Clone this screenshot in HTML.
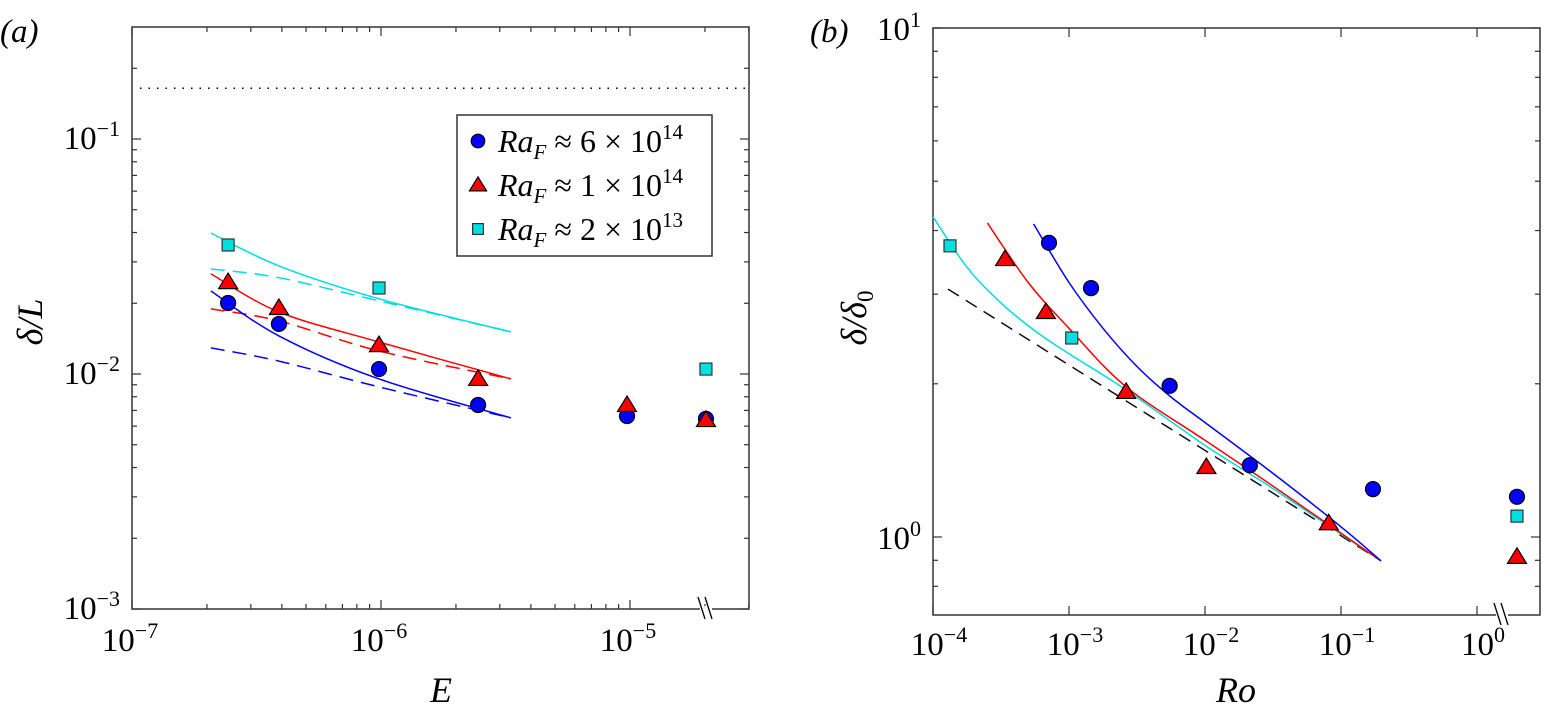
<!DOCTYPE html>
<html><head><meta charset="utf-8"><style>
html,body{margin:0;padding:0;background:#fff;}
svg{display:block;font-family:"Liberation Serif",serif;}
</style></head><body>
<svg id="fig" width="1544" height="719" viewBox="0 0 1544 719" xmlns="http://www.w3.org/2000/svg">
<g id="pa"></g>
<g id="pb"></g>
</svg>
<script>
// ---------- Panel (a) data: log10 values ----------
const aBlueX = [-6.614, -6.41, -6.008, -5.61, -5.012, -4.695];
const aBlueY = [-1.698, -1.787, -1.979, -2.132, -2.179, -2.191];
const aRedX = [-6.614, -6.41, -6.008, -5.61, -5.012, -4.695];
const aRedY = [-1.609, -1.719, -1.877, -2.021, -2.132, -2.196];
const aCyanX = [-6.614, -6.008, -4.695];
const aCyanY = [-1.451, -1.634, -1.979];
const aCurveX = [-6.683, -6.41, -6.008, -5.478];
const aCyanSolid = [-1.40, -1.54, -1.68, -1.821];
const aCyanDash = [-1.553, -1.59, -1.689, -1.821];
const aRedSolid = [-1.574, -1.736, -1.864, -2.021];
const aRedDash = [-1.723, -1.774, -1.902, -2.021];
const aBlueSolid = [-1.647, -1.838, -2.021, -2.187];
const aBlueDash = [-1.889, -1.945, -2.055, -2.187];
const aDotted = -0.784;
const aXTickExp = [-7, -6, -5];
const aYTickExp = [-3, -2, -1];
const legendLabels = [["6","14"],["1","14"],["2","13"]];

// ---------- Panel (b) data: log10 values ----------
const bBlueX = [-3.147, -2.838, -2.26, -1.67, -0.765, 0.294];
const bBlueY = [0.578, 0.489, 0.297, 0.141, 0.094, 0.079];
const bRedX = [-3.47, -3.17, -2.58, -1.99, -1.09, 0.294];
const bRedY = [0.546, 0.442, 0.285, 0.1375, 0.027, -0.039];
const bCyanX = [-3.875, -2.98, 0.294];
const bCyanY = [0.572, 0.391, 0.041];
const bDashX = [-3.89, -0.706];
const bDashY = [0.487, -0.047];
const bCyanCurveX = [-4.0, -3.75, -3.5, -3.25, -3.0, -2.58, -2.0, -1.5, -0.706];
const bCyanCurveY = [0.629, 0.53, 0.46, 0.405, 0.36, 0.289, 0.18, 0.095, -0.047];
const bRedCurveX = [-3.6, -3.3, -3.0, -2.58, -2.0, -1.5, -0.706];
const bRedCurveY = [0.617, 0.5, 0.41, 0.295, 0.19, 0.1, -0.047];
const bBlueCurveX = [-3.26, -3.0, -2.75, -2.5, -2.25, -2.0, -1.5, -1.0, -0.706];
const bBlueCurveY = [0.615, 0.50, 0.41, 0.335, 0.275, 0.225, 0.125, 0.02, -0.047];
const bXTickExp = [-4, -3, -2, -1, 0];
const bYTickExp = [0, 1];

const NS = "http://www.w3.org/2000/svg";
function mk(parent, tag, attrs) {
  const e = document.createElementNS(NS, tag);
  for (const k in attrs) e.setAttribute(k, attrs[k]);
  parent.appendChild(e);
  return e;
}
function smoothPath(pts) {
  let d = "M" + pts[0][0].toFixed(1) + "," + pts[0][1].toFixed(1);
  for (let i = 0; i < pts.length - 1; i++) {
    const p0 = pts[i - 1] || pts[i], p1 = pts[i], p2 = pts[i + 1], p3 = pts[i + 2] || p2;
    const c1 = [p1[0] + (p2[0] - p0[0]) / 6, p1[1] + (p2[1] - p0[1]) / 6];
    const c2 = [p2[0] - (p3[0] - p1[0]) / 6, p2[1] - (p3[1] - p1[1]) / 6];
    d += "C" + c1.map(v => v.toFixed(1)).join(",") + " " + c2.map(v => v.toFixed(1)).join(",") + " " + p2[0].toFixed(1) + "," + p2[1].toFixed(1);
  }
  return d;
}
function powLabel(g, x, y, exp, anchor, name) {
  const t = mk(g, "text", {x: x, y: y, "font-size": 33, "text-anchor": anchor, fill: "#000"});
  
  
  const a = document.createElementNS(NS, "tspan"); a.textContent = "10"; t.appendChild(a);
  const b = document.createElementNS(NS, "tspan"); b.setAttribute("dy", "-13"); b.setAttribute("font-size", "22");
  b.textContent = (exp < 0 ? "\u2212" + (-exp) : "" + exp); t.appendChild(b);
}
function marker(g, type, cx, cy, name, s) {
  s = s || 1;
  let e;
  if (type === "c") e = mk(g, "circle", {cx: cx, cy: cy, r: 7.5 * s, fill: "#0000ff", stroke: "#000", "stroke-width": 1.2});
  else if (type === "t") e = mk(g, "polygon", {points: `${cx},${cy - 9 * s} ${cx - 9.5 * s},${cy + 6.5 * s} ${cx + 9.5 * s},${cy + 6.5 * s}`, fill: "#ff0000", stroke: "#000", "stroke-width": 1.2});
  else e = mk(g, "rect", {x: cx - 6 * s, y: cy - 6 * s, width: 12 * s, height: 12 * s, fill: "#00e0e0", stroke: "#333", "stroke-width": 1.2});
  
  
}
function axesBox(g, L, T, R, B, name) {
  const r = mk(g, "rect", {x: L, y: T, width: R - L, height: B - T, fill: "none", stroke: "#333", "stroke-width": 1.5});
  
  
}
function logTicks(g, axis, sx, lo, hi, fixed1, fixed2, majorOnly) {
  for (let d = Math.floor(lo); d <= Math.ceil(hi); d++) {
    for (let m = 1; m <= 9; m++) {
      if (majorOnly && m !== 1) continue;
      const v = d + Math.log10(m);
      if (v < lo - 1e-6 || v > hi + 1e-6) continue;
      const len = m === 1 ? 9 : 5;
      const p = sx(v);
      if (axis === "x") {
        mk(g, "line", {x1: p, y1: fixed1, x2: p, y2: fixed1 - len, stroke: "#333", "stroke-width": 1.2});
        mk(g, "line", {x1: p, y1: fixed2, x2: p, y2: fixed2 + len, stroke: "#333", "stroke-width": 1.2});
      } else {
        mk(g, "line", {x1: fixed1, y1: p, x2: fixed1 + len, y2: p, stroke: "#333", "stroke-width": 1.2});
        mk(g, "line", {x1: fixed2, y1: p, x2: fixed2 - len, y2: p, stroke: "#333", "stroke-width": 1.2});
      }
    }
  }
}
function breakMark(g, x, y, name) {
  const gg = mk(g, "g", {});
  
  
  mk(gg, "rect", {x: x - 6, y: y - 3, width: 12, height: 6, fill: "#fff"});
  mk(gg, "line", {x1: x - 8, y1: y - 12, x2: x - 1, y2: y + 10, stroke: "#000", "stroke-width": 1.3});
  mk(gg, "line", {x1: x - 1, y1: y - 12, x2: x + 6, y2: y + 10, stroke: "#000", "stroke-width": 1.3});
}
function series(g, xs, ys, sx, sy, color, dash, name) {
  const pts = xs.map((x, i) => [sx(x), sy(ys[i])]);
  const p = mk(g, "path", {d: smoothPath(pts), fill: "none", stroke: color, "stroke-width": 1.5});
  if (dash) p.setAttribute("stroke-dasharray", dash);
  
  
}

// ===== Panel (a) =====
(function () {
  const g = document.getElementById("pa");
  const L = 132, R = 749, T = 27, B = 609;
  const xlo = -7, dxp = 249, ylo = -3, dyp = 235;
  const sx = v => L + (v - xlo) * dxp;
  const sy = v => B - (v - ylo) * dyp;
  const xhi = xlo + (R - L) / dxp, yhi = ylo + (B - T) / dyp;
  axesBox(g, L, T, R, B, "panel-a-axes-box");
  logTicks(g, "x", sx, xlo, xhi, B, T);
  logTicks(g, "y", sy, ylo, yhi, L, R);
  const dl = mk(g, "line", {x1: L + 8, y1: sy(aDotted), x2: R - 4, y2: sy(aDotted), stroke: "#000", "stroke-width": 1.5, "stroke-dasharray": "1.5,7"});
  
  
  aXTickExp.forEach(e => powLabel(g, sx(e) - 2, B + 42, e, "middle", "x-tick-label"));
  aYTickExp.forEach(e => powLabel(g, L - 12, sy(e) + 10, e, "end", "y-tick-label"));
  breakMark(g, 706, B, "axis-break-a");
  series(g, aCurveX, aCyanDash, sx, sy, "#00dddd", "14,8", "cyan-dashed-fit");
  series(g, aCurveX, aRedDash, sx, sy, "#ff0000", "14,8", "red-dashed-fit");
  series(g, aCurveX, aBlueDash, sx, sy, "#0000ff", "14,8", "blue-dashed-fit");
  series(g, aCurveX, aCyanSolid, sx, sy, "#00dddd", null, "cyan-solid-fit");
  series(g, aCurveX, aRedSolid, sx, sy, "#ff0000", null, "red-solid-fit");
  series(g, aCurveX, aBlueSolid, sx, sy, "#0000ff", null, "blue-solid-fit");
  aCyanX.forEach((x, i) => marker(g, "s", sx(x), sy(aCyanY[i]), "cyan-square-point"));
  aBlueX.forEach((x, i) => marker(g, "c", sx(x), sy(aBlueY[i]), "blue-circle-point"));
  aRedX.forEach((x, i) => marker(g, "t", sx(x), sy(aRedY[i]), "red-triangle-point"));
  // legend
  const lg = mk(g, "g", {});
  
  
  mk(lg, "rect", {x: 457, y: 115, width: 255, height: 141, fill: "#fff", stroke: "#333", "stroke-width": 1.5});
  const types = ["c", "t", "s"];
  legendLabels.forEach((lab, i) => {
    const y = 141 + i * 44;
    marker(lg, types[i], 478, y, "legend-marker", 0.9);
    const t = mk(lg, "text", {x: 498, y: y + 11, "font-size": 32, fill: "#000"});
    
    
    const parts = [["Ra", {"font-style": "italic"}], ["F", {"font-style": "italic", "font-size": "21", dy: "7"}], [" \u2248 " + lab[0] + " \u00d7 10", {dy: "-7"}], [lab[1], {"font-size": "21", dy: "-13"}]];
    parts.forEach(p => { const s = document.createElementNS(NS, "tspan"); for (const k in p[1]) s.setAttribute(k, p[1][k]); s.textContent = p[0]; t.appendChild(s); });
  });
  const ta = mk(g, "text", {x: 0, y: 42, "font-size": 33, fill: "#000"});
  ta.textContent = "(a)"; ta.setAttribute("font-style", "italic");
  
  
  const xl = mk(g, "text", {x: 441, y: 702, "font-size": 36, "font-style": "italic", "text-anchor": "middle", fill: "#000"});
  xl.textContent = "E";
  
  
  const yl = mk(g, "text", {x: 0, y: 0, "font-size": 36, "font-style": "italic", "text-anchor": "middle", fill: "#000", transform: "translate(42,322) rotate(-90)"});
  yl.textContent = "\u03b4/L";
  
  
})();

// ===== Panel (b) =====
(function () {
  const g = document.getElementById("pb");
  const L = 933, R = 1540, T = 28, B = 615;
  const xlo = -4, dxp = 136, yhi = 1, dyp = 509;
  const sx = v => L + (v - xlo) * dxp;
  const sy = v => T + (yhi - v) * dyp;
  const xhi = xlo + (R - L) / dxp, ylo = yhi - (B - T) / dyp;
  axesBox(g, L, T, R, B, "panel-b-axes-box");
  logTicks(g, "x", sx, xlo, xhi, B, T, true);
  logTicks(g, "y", sy, ylo, yhi, L, R);
  bXTickExp.forEach(e => powLabel(g, sx(e) + 6, B + 40, e, "middle", "x-tick-label"));
  bYTickExp.forEach(e => powLabel(g, L - 12, sy(e) + 12, e, "end", "y-tick-label"));
  breakMark(g, 1502, B, "axis-break-b");
  series(g, bDashX, bDashY, sx, sy, "#111", "13,8", "black-dashed-asymptote");
  series(g, bCyanCurveX, bCyanCurveY, sx, sy, "#00dddd", null, "cyan-fit-curve");
  series(g, bRedCurveX, bRedCurveY, sx, sy, "#ff0000", null, "red-fit-curve");
  series(g, bBlueCurveX, bBlueCurveY, sx, sy, "#0000ff", null, "blue-fit-curve");
  bCyanX.forEach((x, i) => marker(g, "s", sx(x), sy(bCyanY[i]), "cyan-square-point"));
  bBlueX.forEach((x, i) => marker(g, "c", sx(x), sy(bBlueY[i]), "blue-circle-point"));
  bRedX.forEach((x, i) => marker(g, "t", sx(x), sy(bRedY[i]), "red-triangle-point"));
  const tb = mk(g, "text", {x: 810, y: 42, "font-size": 33, "font-style": "italic", fill: "#000"});
  tb.textContent = "(b)";
  
  
  const xl = mk(g, "text", {x: 1236, y: 702, "font-size": 36, "font-style": "italic", "text-anchor": "middle", fill: "#000"});
  xl.textContent = "Ro";
  
  
  const yl = mk(g, "text", {x: 0, y: 0, "font-size": 36, "font-style": "italic", "text-anchor": "middle", fill: "#000", transform: "translate(866,318) rotate(-90)"});
  const s1 = document.createElementNS(NS, "tspan"); s1.textContent = "\u03b4/\u03b4"; yl.appendChild(s1);
  const s2 = document.createElementNS(NS, "tspan"); s2.setAttribute("font-size", "23"); s2.setAttribute("dy", "7"); s2.setAttribute("font-style", "normal"); s2.textContent = "0"; yl.appendChild(s2);
  
  
})();
</script>
</body></html>
